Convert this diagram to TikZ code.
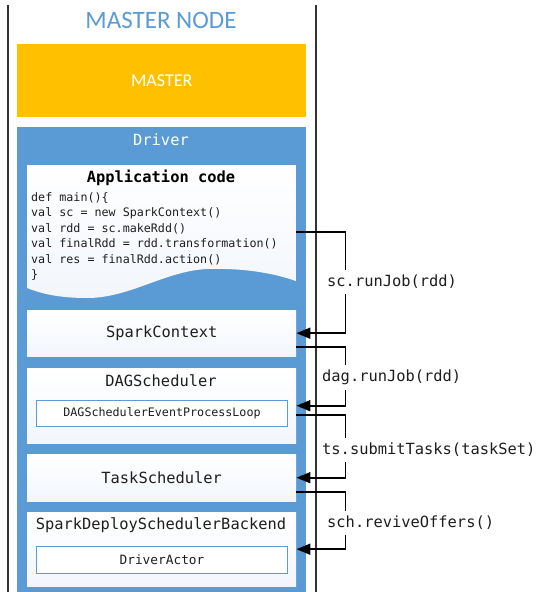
\documentclass[tikz,border=0pt]{standalone}
\usepackage{fontspec}
\setmainfont{Carlito}
\newfontfamily\monofont{DejaVu Sans Mono}
\usetikzlibrary{arrows.meta}
\definecolor{officeblue}{HTML}{5B9BD5}
\definecolor{gold}{HTML}{FFC000}
\definecolor{framegray}{HTML}{333333}
\definecolor{paleblue}{HTML}{F2F6FC}
\definecolor{textgray}{HTML}{1E1E1E}

\begin{document}
\begin{tikzpicture}[x=1pt,y=-1pt,
  bigmono/.style={font=\monofont\fontsize{15.4}{18}\selectfont},
  smallmono/.style={font=\monofont\fontsize{11.7}{15.5}\selectfont},
  panel/.style={draw=none, top color=white, bottom color=paleblue,
    minimum width=269pt, anchor=north west, inner sep=0pt,
    bigmono, text=textgray},
  subpanel/.style={draw=officeblue, line width=1pt, fill=white,
    minimum width=251pt, anchor=north west, inner sep=0pt, text=textgray},
  conn/.style={draw=black, line width=1.8pt,
    -{Triangle[length=14pt,width=11pt]}},
  call/.style={fill=white, inner xsep=2pt, inner ysep=5pt, anchor=west,
    bigmono, text=textgray}]
\useasboundingbox (0,0) rectangle (539,592);

% node frame
\draw[framegray, line width=2pt] (7.5,5) -- (7.5,592);
\draw[framegray, line width=2pt] (315.5,5) -- (315.5,592);

\node[text=officeblue, font=\fontsize{25}{29}\selectfont] (title) at (161,20) {MASTER NODE};

\node[fill=gold, minimum width=289pt, minimum height=73pt, inner sep=0pt,
  anchor=north west, text=white, font=\fontsize{18}{21}\selectfont]
  (master) at (17,44) {MASTER};

% driver container
\node[fill=officeblue, minimum width=289pt, minimum height=466pt, inner sep=0pt,
  anchor=north west] (driver) at (17,127) {};
\node[text=white, bigmono] (drivertitle) at (161,140) {Driver};

% application code document
\node[minimum width=269pt, minimum height=117pt, inner sep=0pt, anchor=north west]
  (app) at (27,165) {};
\path[top color=white, bottom color=paleblue]
  (app.north west) -- (app.north east) -- (296,281)
  .. controls (270,272) and (240,268) .. (207,269)
  .. controls (165,271) and (130,298) .. (87,298)
  .. controls (60,298) and (42,294) .. (27,288) -- cycle;
\node[font=\monofont\bfseries\fontsize{15.4}{18}\selectfont, text=black]
  (apptitle) at (161,178) {Application code};
\node[smallmono, text=textgray, align=left, anchor=north west, inner sep=0pt]
  (code) at (31,192) {def main()\{\\
val sc = new SparkContext()\\
val rdd = sc.makeRdd()\\
val finalRdd = rdd.transformation()\\
val res = finalRdd.action()\\
\}};

% scheduler panels
\node[panel, minimum height=46pt] (sc) at (27,310) {SparkContext};

\node[panel, minimum height=75pt] (dag) at (27,368) {};
\node[bigmono, text=textgray] (dagtitle) at (161,381) {DAGScheduler};
\node[subpanel, minimum height=26pt, smallmono] (loop) at (36,400)
  {DAGSchedulerEventProcessLoop};

\node[panel, minimum height=47pt] (ts) at (27,454) {TaskScheduler};

\node[panel, minimum height=74pt] (backend) at (27,512) {};
\node[bigmono, text=textgray] (backendtitle) at (161,525) {SparkDeploySchedulerBackend};
\node[subpanel, minimum height=27pt, font=\monofont\fontsize{12.8}{15}\selectfont]
  (actor) at (36,546) {DriverActor};

% calls between components
\draw[conn] ([yshift=-8.5pt]app.east) -- ++(49,0) |- (sc.east);
\draw[conn] ([yshift=-14pt]sc.east) -- ++(49,0) |- (dag.east);
\draw[conn] ([yshift=-9.5pt]dag.east) -- ++(49,0) |- (ts.east);
\draw[conn] ([yshift=-14.5pt]ts.east) -- ++(49,0) |- (backend.east);

\node[call] (c1) at (325,282) {sc.runJob(rdd)};
\node[call] (c2) at (320,377) {dag.runJob(rdd)};
\node[call] (c3) at (320,450) {ts.submitTasks(taskSet)};
\node[call] (c4) at (325,523) {sch.reviveOffers()};
\end{tikzpicture}
\end{document}
